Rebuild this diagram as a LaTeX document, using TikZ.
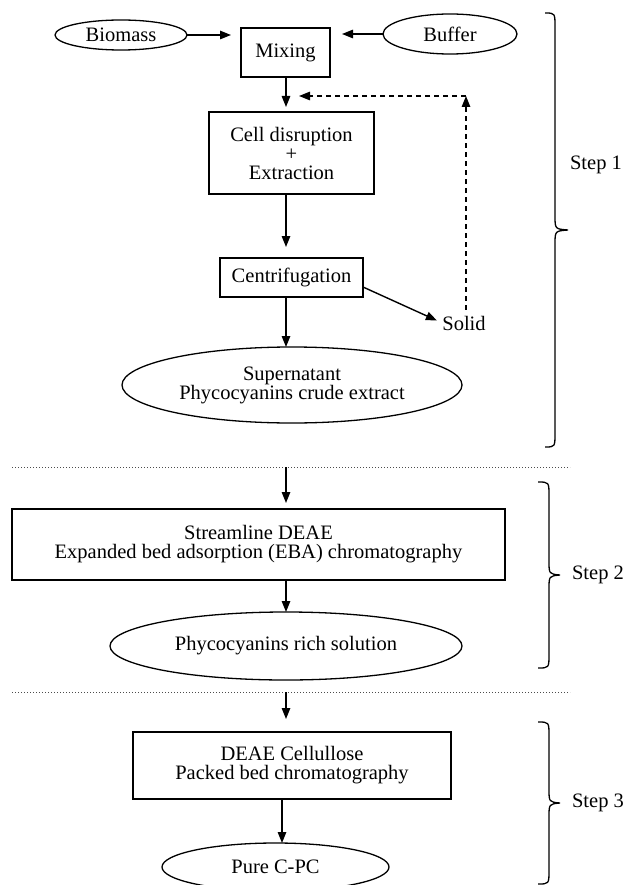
\documentclass[tikz,border=0pt]{standalone}
\usepackage{fontspec}
\setmainfont{Liberation Serif}
\usetikzlibrary{shapes.geometric,arrows.meta}
\begin{document}
\begin{tikzpicture}[x=1pt,y=-1pt,
  every node/.style={font=\fontsize{20.5}{19}\selectfont, inner sep=0pt, outer sep=0pt, align=center},
  proc/.style={draw, line width=1.3pt, rectangle},
  term/.style={draw, line width=1.3pt, ellipse},
  flow/.style={line width=1.4pt, -{Triangle[length=11pt,width=8.5pt]}},
  recycle/.style={flow, dash pattern=on 5pt off 4pt},
  divider/.style={line width=1pt, dash pattern=on 1pt off 2pt, black!70},
  bracket/.style={line width=1.3pt}
]
\useasboundingbox (0,0) rectangle (629,885);

% ---- Step 1: extraction ----
\node[term, minimum width=132pt, minimum height=30pt] (bio) at (121,35) {Biomass};
\node[term, minimum width=134pt, minimum height=40pt] (buf) at (450,34) {Buffer};
\node[proc, minimum width=89pt, minimum height=49pt] (mix) at (285.5,52.5) {Mixing};
\node[proc, minimum width=165pt, minimum height=82pt] (cell) at (291.5,153) {Cell disruption\\+\\Extraction};
\node[proc, minimum width=143pt, minimum height=39pt] (cent) at (291.5,277.5) {Centrifugation};
\node (solid) at (464,323) {Solid};
\node[term, minimum width=340pt, minimum height=76pt] (sup) at (292,385) {Supernatant\\Phycocyanins crude extract};

\coordinate (spine) at (286,0);
\coordinate (ret) at (466,96);

\draw[flow] (bio.east) -- ([xshift=-10pt]bio.east -| mix.west);
\draw[flow] (buf.west) -- ([xshift=12pt]buf.west -| mix.east);
\draw[flow] (spine |- mix.south) -- ([yshift=5pt]spine |- cell.north);
\draw[flow] (spine |- cell.south) -- ([yshift=11pt]spine |- cent.north);
\draw[flow] (spine |- cent.south) -- (spine |- sup.north);
\draw[flow, shorten >=6pt] ([yshift=-9.5pt]cent.east) -- (solid.west);
\draw[recycle, shorten <=6pt] (solid.north -| ret) -- (ret);
\draw[recycle] (ret) -- ([xshift=13pt]ret -| spine);

% ---- Step 2: expanded bed adsorption ----
\coordinate (cutAw) at (12,467);
\coordinate (cutAe) at (570,467);
\draw[divider] (cutAw) -- (cutAe);

\node[proc, minimum width=493pt, minimum height=71pt] (eba) at (258.5,544.5)
  {Streamline DEAE\\Expanded bed adsorption (EBA) chromatography};
\node[term, minimum width=352pt, minimum height=68pt] (rich) at (286,646) {Phycocyanins rich solution};

\draw[flow] (spine |- cutAw) -- ([yshift=6pt]spine |- eba.north);
\draw[flow] (spine |- eba.south) -- (rich.north);

% ---- Step 3: packed bed ----
\coordinate (cutBw) at (12,692);
\coordinate (cutBe) at (570,692);
\draw[divider] (cutBw) -- (cutBe);

\node[proc, minimum width=318pt, minimum height=67pt] (deae) at (292,765.5)
  {DEAE Cellullose\\Packed bed chromatography};
\node[term, minimum width=227pt, minimum height=48pt] (pure) at (275.5,867) {Pure C-PC};

\draw[flow] (spine |- cutBw) -- ([yshift=13pt]spine |- deae.north);
\draw[flow] ([xshift=-10pt]deae.south) -- ([xshift=-10pt]deae.south |- pure.north);

% ---- step braces and labels ----
\draw[bracket] (545,13) .. controls (555,13) .. (555,27) -- (555,216)
  .. controls (555,229) .. (568,230) .. controls (555,231) .. (555,244)
  -- (555,433) .. controls (555,447) .. (545,447);
\node (s1) at (596,165) {Step 1};

\draw[bracket] (538,482) .. controls (549,482) .. (549,496) -- (549,561)
  .. controls (549,574) .. (560,575) .. controls (549,576) .. (549,589)
  -- (549,654) .. controls (549,668) .. (538,668);
\node (s2) at (598,575) {Step 2};

\draw[bracket] (538,722) .. controls (549,722) .. (549,736) -- (549,789)
  .. controls (549,802) .. (560,803) .. controls (549,804) .. (549,817)
  -- (549,870) .. controls (549,884) .. (538,884);
\node (s3) at (598,803) {Step 3};
\end{tikzpicture}
\end{document}
